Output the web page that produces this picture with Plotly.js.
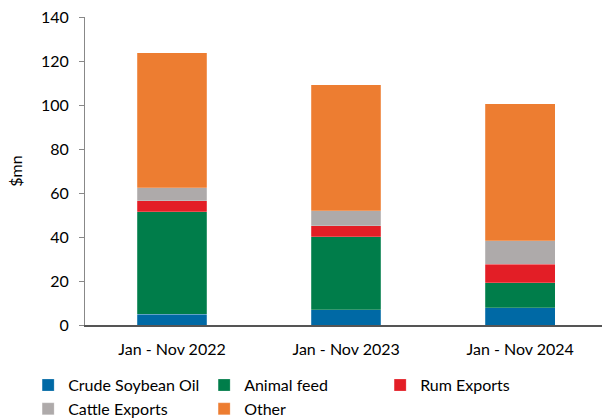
<!DOCTYPE html>
<html>
<head>
<meta charset="utf-8">
<script src="https://cdn.plot.ly/plotly-3.0.1.min.js"></script>
<style>body{margin:0;padding:0;background:#fff}#chart{width:602px;height:419px}</style>
</head>
<body>
<div id="chart"></div>
<script>
const categories = ["Jan - Nov 2022", "Jan - Nov 2023", "Jan - Nov 2024"];
const crudeSoybeanOil = [4.8, 7.0, 7.8];
const animalFeed = [46.7, 33.2, 11.5];
const rumExports = [4.9, 5.0, 8.3];
const cattleExports = [6.0, 6.8, 10.8];
const other = [61.3, 57.2, 62.1];
const yTicks = [0, 20, 40, 60, 80, 100, 120, 140];

const seriesNames = ["Crude Soybean Oil", "Animal feed", "Rum Exports", "Cattle Exports", "Other"];
const seriesValues = [crudeSoybeanOil, animalFeed, rumExports, cattleExports, other];
const seriesColors = ["#0069a5", "#007d4a", "#e31e26", "#aeaaaa", "#ed7d31"];

const traces = seriesNames.map((n, i) => ({
  type: "bar",
  name: n,
  x: [0, 1, 2],
  y: seriesValues[i],
  width: 0.4,
  marker: {color: seriesColors[i], line: {color: "rgba(255,255,255,0.35)", width: 0.6}},
  hoverinfo: "skip"
}));

const font = {family: "Lato, 'Open Sans', sans-serif", size: 16, color: "#000"};

const layout = {
  width: 602, height: 419,
  margin: {l: 85, r: 0, t: 17, b: 94, pad: 0, autoexpand: false},
  barmode: "stack",
  bargap: 0,
  paper_bgcolor: "#fff",
  plot_bgcolor: "#fff",
  font: font,
  showlegend: true,
  xaxis: {
    range: [-0.5, 2.47],
    tickvals: [0, 1, 2],
    ticktext: categories,
    showline: true, linecolor: "#555", linewidth: 2,
    ticks: "", showgrid: false, zeroline: false,
    ticklabelstandoff: 9,
    tickfont: font, fixedrange: true
  },
  yaxis: {
    range: [0, 140],
    tickvals: yTicks,
    showline: true, linecolor: "#888", linewidth: 1,
    ticks: "outside", ticklen: 5, tickcolor: "#888",
    showgrid: false, zeroline: false,
    ticklabelstandoff: 7,
    tickfont: font,
    title: {text: "$mn", font: font, standoff: 14},
    fixedrange: true
  },
  legend: {
    orientation: "h",
    x: -0.11, xanchor: "left",
    y: -0.14, yanchor: "top",
    entrywidth: 131, entrywidthmode: "pixels",
    traceorder: "normal",
    font: font,
    itemclick: false, itemdoubleclick: false,
    tracegroupgap: 0
  }
};

Plotly.newPlot("chart", traces, layout, {displayModeBar: false, staticPlot: true});
</script>
</body>
</html>
